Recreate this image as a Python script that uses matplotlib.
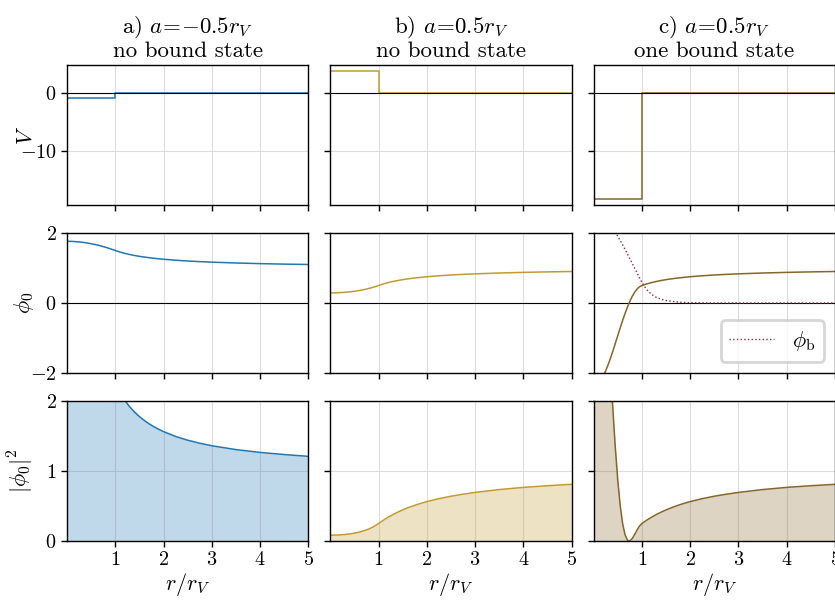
import matplotlib
matplotlib.use("Agg")
import matplotlib.pyplot as plt

plt.rcParams['font.family'] = 'serif'
plt.rcParams['font.serif'] = ['cmr10', 'DejaVu Serif']
plt.rcParams['mathtext.fontset'] = 'cm'
plt.rcParams['axes.formatter.use_mathtext'] = True
plt.rcParams['axes.unicode_minus'] = True

# radial grid (r / r_V)
r_ab = [0.0, 0.1, 0.2, 0.3, 0.4, 0.5, 0.6, 0.7, 0.8, 0.9, 1.0,
        1.1, 1.2, 1.3, 1.4, 1.5, 1.6, 1.7, 1.8, 1.9, 2.0,
        2.25, 2.5, 2.75, 3.0, 3.5, 4.0, 4.5, 5.0]
r_c = [0.0, 0.05, 0.1, 0.15, 0.2, 0.25, 0.3, 0.35, 0.4, 0.45, 0.5,
       0.55, 0.6, 0.65, 0.7, 0.735, 0.75, 0.8, 0.85, 0.9, 0.95, 1.0,
       1.1, 1.2, 1.3, 1.4, 1.5, 1.6, 1.7, 1.8, 1.9, 2.0,
       2.25, 2.5, 2.75, 3.0, 3.5, 4.0, 4.5, 5.0]
r_bound = [0.3, 0.35, 0.4, 0.45, 0.5, 0.55, 0.6, 0.65, 0.7, 0.75, 0.8,
           0.85, 0.9, 0.95, 1.0, 1.1, 1.2, 1.3, 1.4, 1.5, 1.75, 2.0,
           2.5, 3.0, 4.0, 5.0]

# square-well potentials
r_pot = [0.0, 1.0, 1.0, 5.0]
V_a = [-0.94, -0.94, 0.0, 0.0]
V_b = [3.67, 3.67, 0.0, 0.0]
V_c = [-18.27, -18.27, 0.0, 0.0]

# zero-energy wave functions
phi_a = [1.762, 1.760, 1.751, 1.738, 1.719, 1.694, 1.665, 1.631, 1.592, 1.548, 1.500,
         1.455, 1.417, 1.385, 1.357, 1.333, 1.313, 1.294, 1.278, 1.263, 1.250,
         1.222, 1.200, 1.182, 1.167, 1.143, 1.125, 1.111, 1.100]
phi_b = [0.288, 0.290, 0.296, 0.305, 0.317, 0.335, 0.356, 0.383, 0.415, 0.454, 0.500,
         0.545, 0.583, 0.615, 0.643, 0.667, 0.688, 0.706, 0.722, 0.737, 0.750,
         0.778, 0.800, 0.818, 0.833, 0.857, 0.875, 0.889, 0.900]
phi_c = [-2.360, -2.342, -2.289, -2.201, -2.083, -1.936, -1.764, -1.573, -1.367, -1.151,
         -0.932, -0.713, -0.502, -0.302, -0.117, 0.0, 0.047, 0.190, 0.307, 0.398, 0.462,
         0.500, 0.545, 0.583, 0.615, 0.643, 0.667, 0.688, 0.706, 0.722, 0.737, 0.750,
         0.778, 0.800, 0.818, 0.833, 0.857, 0.875, 0.889, 0.900]

# |phi_0|^2
phi2_a = [3.105, 3.098, 3.066, 3.020, 2.955, 2.870, 2.772, 2.659, 2.534, 2.396, 2.250,
          2.116, 2.007, 1.917, 1.842, 1.778, 1.723, 1.675, 1.633, 1.596, 1.563,
          1.494, 1.440, 1.397, 1.361, 1.306, 1.266, 1.235, 1.210]
phi2_b = [0.083, 0.084, 0.087, 0.093, 0.101, 0.112, 0.127, 0.147, 0.172, 0.206, 0.250,
          0.298, 0.340, 0.379, 0.413, 0.444, 0.473, 0.498, 0.522, 0.543, 0.563,
          0.605, 0.640, 0.669, 0.694, 0.735, 0.766, 0.790, 0.810]
phi2_c = [5.569, 5.485, 5.238, 4.846, 4.337, 3.747, 3.112, 2.474, 1.868, 1.325, 0.868,
          0.509, 0.252, 0.091, 0.0137, 0.0, 0.0023, 0.0359, 0.0941, 0.1583, 0.2136, 0.250,
          0.298, 0.340, 0.379, 0.413, 0.444, 0.473, 0.498, 0.522, 0.543, 0.563,
          0.605, 0.640, 0.669, 0.694, 0.735, 0.766, 0.790, 0.810]

# bound state
phi_bound = [2.282, 2.201, 2.111, 2.011, 1.902, 1.786, 1.663, 1.535, 1.403, 1.268, 1.131,
             0.993, 0.856, 0.721, 0.588, 0.378, 0.245, 0.160, 0.105, 0.070, 0.025, 0.009,
             0.001, 0.0, 0.0, 0.0]

titles = ["a) $a\\!=\\!{-}0.5r_V$\nno bound state",
          "b) $a\\!=\\!0.5r_V$\nno bound state",
          "c) $a\\!=\\!0.5r_V$\none bound state"]
colors = ['#1f77b4', '#c29a2e', '#86652a']
xticks = [1, 2, 3, 4, 5]

fig, axes = plt.subplots(3, 3, sharex=True, sharey='row', figsize=(8.35, 6.0), dpi=100)
fig.subplots_adjust(left=0.0802, right=1.0, top=0.8917, bottom=0.0983,
                    wspace=0.091, hspace=0.2)

cols = [(r_ab, V_a, phi_a, phi2_a), (r_ab, V_b, phi_b, phi2_b), (r_c, V_c, phi_c, phi2_c)]

for j, (r, V, phi, phi2) in enumerate(cols):
    c = colors[j]
    ax1, ax2, ax3 = axes[0, j], axes[1, j], axes[2, j]
    ax1.plot(r_pot, V, color=c, lw=1.1)
    ax1.axhline(0, color='k', lw=0.8, zorder=3)
    ax2.plot(r, phi, color=c, lw=1.1)
    ax2.axhline(0, color='k', lw=0.8, zorder=1)
    ax3.fill_between(r, phi2, color=c, alpha=0.28, lw=0)
    ax3.plot(r, phi2, color=c, lw=1.1)
    ax1.set_title(titles[j], fontsize=16.5, linespacing=1.1)
    ax3.set_xlabel("$r/r_V$", fontsize=16, labelpad=1)

axes[1, 2].plot(r_bound, phi_bound, color='#8b2a3a', lw=1.0, ls=':', label='$\\phi_\\mathrm{b}$')
leg = axes[1, 2].legend(loc='lower right', fontsize=16, handlelength=2.0, fancybox=True,
                        borderpad=0.4)
leg.get_frame().set_edgecolor('#cccccc')
leg.get_frame().set_linewidth(2.0)

axes[0, 0].set_ylabel("$V$", fontsize=16)
axes[1, 0].set_ylabel("$\\phi_0$", fontsize=16)
axes[2, 0].set_ylabel("$|\\phi_0|^2$", fontsize=16)
for i in range(3):
    axes[i, 0].yaxis.set_label_coords(-0.13, 0.5)

axes[0, 0].set_yticks([-10, 0])
axes[1, 0].set_ylim(-2, 2)
axes[1, 0].set_yticks([-2, 0, 2])
axes[2, 0].set_ylim(0, 2)
axes[2, 0].set_yticks([0, 1, 2])

for ax in axes.flat:
    ax.set_xlim(0, 5)
    ax.set_xticks(xticks)
    ax.grid(True, color='#dcdcdc', lw=0.8)
    ax.set_axisbelow(True)
    ax.tick_params(labelsize=14.5, direction='out', length=4, width=1)
    for s in ax.spines.values():
        s.set_linewidth(1.0)

plt.savefig("out.png", dpi=100)
